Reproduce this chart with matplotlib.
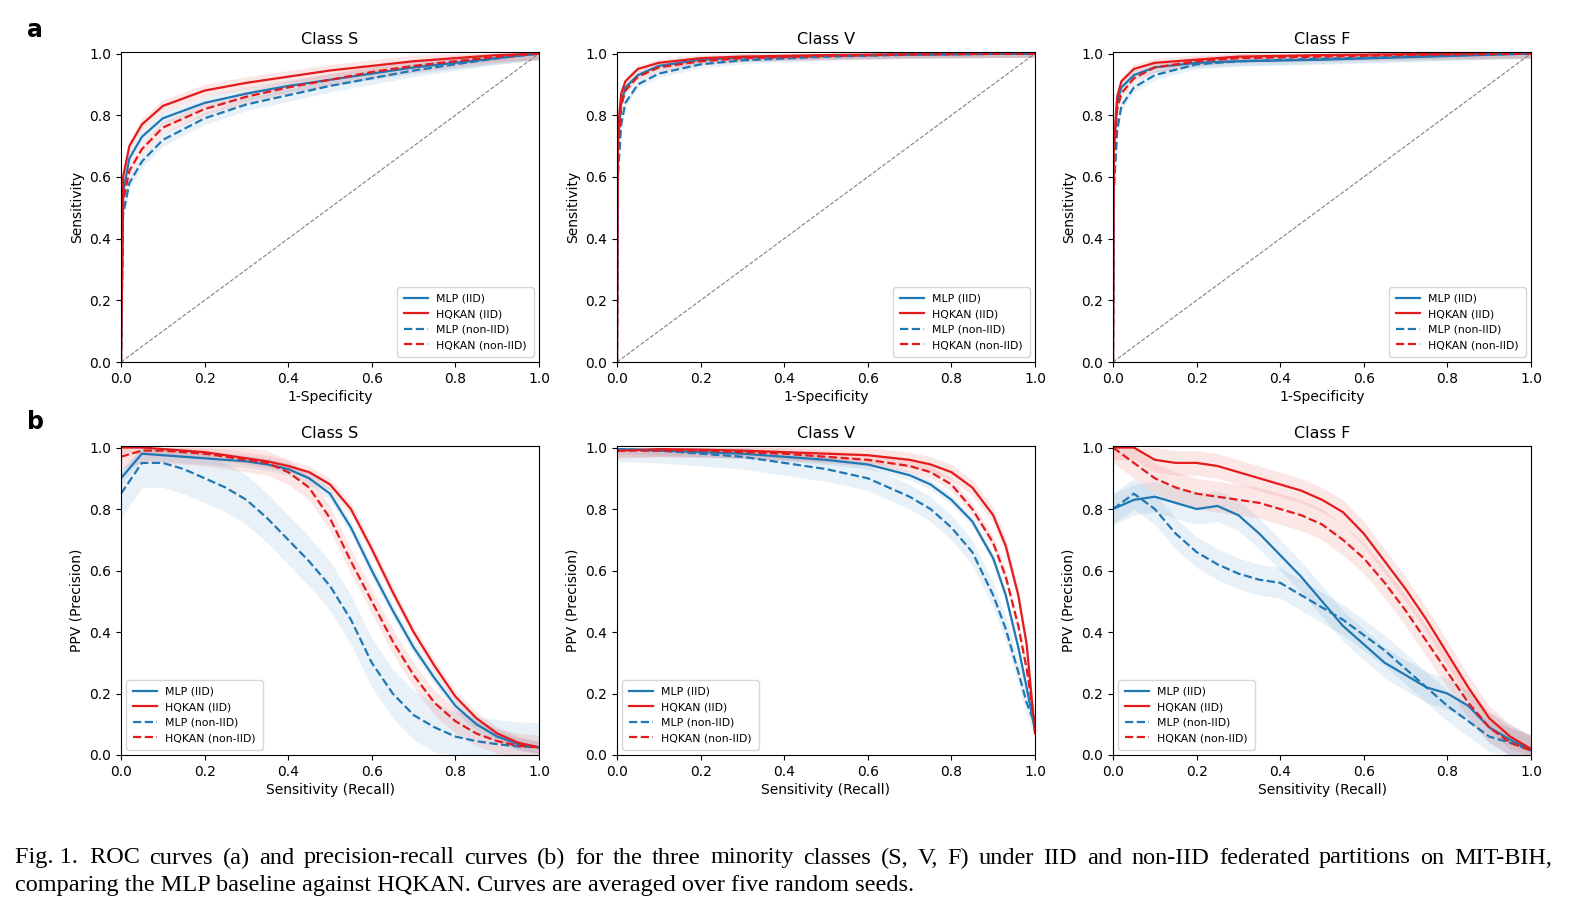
import matplotlib
matplotlib.use("Agg")
import matplotlib.pyplot as plt
import numpy as np

labels = ["MLP (IID)", "HQKAN (IID)", "MLP (non-IID)", "HQKAN (non-IID)"]
blue, red = "#1f77b4", "#e41a1c"

# ROC data
fpr_S = [0, 0.005, 0.02, 0.05, 0.1, 0.2, 0.3, 0.4, 0.5, 0.6, 0.7, 0.8, 0.9, 1]
roc_S = {
    "MLP (IID)":       [0, 0.55, 0.66, 0.73, 0.79, 0.84, 0.87, 0.895, 0.915, 0.935, 0.955, 0.97, 0.985, 1],
    "HQKAN (IID)":     [0, 0.60, 0.70, 0.77, 0.83, 0.88, 0.905, 0.925, 0.945, 0.96, 0.975, 0.985, 0.995, 1],
    "MLP (non-IID)":   [0, 0.48, 0.58, 0.65, 0.72, 0.79, 0.835, 0.865, 0.895, 0.92, 0.945, 0.965, 0.985, 1],
    "HQKAN (non-IID)": [0, 0.52, 0.62, 0.69, 0.76, 0.82, 0.86, 0.89, 0.915, 0.94, 0.96, 0.975, 0.99, 1],
}
fpr_VF = [0, 0.002, 0.01, 0.02, 0.05, 0.1, 0.2, 0.3, 0.5, 0.7, 1]
roc_V = {
    "MLP (IID)":       [0, 0.70, 0.84, 0.89, 0.93, 0.96, 0.98, 0.987, 0.993, 0.997, 1],
    "HQKAN (IID)":     [0, 0.75, 0.87, 0.91, 0.95, 0.97, 0.985, 0.99, 0.995, 0.998, 1],
    "MLP (non-IID)":   [0, 0.60, 0.77, 0.84, 0.90, 0.935, 0.965, 0.978, 0.99, 0.996, 1],
    "HQKAN (non-IID)": [0, 0.68, 0.83, 0.88, 0.925, 0.955, 0.975, 0.985, 0.992, 0.997, 1],
}
roc_F = {
    "MLP (IID)":       [0, 0.68, 0.84, 0.89, 0.93, 0.955, 0.97, 0.975, 0.98, 0.988, 1],
    "HQKAN (IID)":     [0, 0.70, 0.86, 0.91, 0.95, 0.97, 0.98, 0.99, 0.995, 0.998, 1],
    "MLP (non-IID)":   [0, 0.55, 0.75, 0.83, 0.89, 0.93, 0.965, 0.975, 0.983, 0.99, 1],
    "HQKAN (non-IID)": [0, 0.65, 0.82, 0.87, 0.92, 0.955, 0.975, 0.985, 0.99, 0.995, 1],
}
roc_band = {"S": 0.02, "V": 0.012, "F": 0.015}

# PR data
rec_S = [0, .05, .1, .15, .2, .25, .3, .35, .4, .45, .5, .55, .6, .65, .7, .75, .8, .85, .9, .95, 1]
pr_S = {
    "MLP (IID)":       [0.90, 0.98, 0.975, 0.97, 0.965, 0.96, 0.955, 0.945, 0.93, 0.90, 0.85, 0.74, 0.60, 0.47, 0.35, 0.25, 0.16, 0.10, 0.06, 0.035, 0.025],
    "HQKAN (IID)":     [1.0, 1.0, 0.995, 0.99, 0.985, 0.975, 0.965, 0.955, 0.94, 0.92, 0.88, 0.80, 0.67, 0.53, 0.40, 0.29, 0.19, 0.12, 0.07, 0.04, 0.025],
    "MLP (non-IID)":   [0.85, 0.95, 0.95, 0.93, 0.90, 0.87, 0.83, 0.77, 0.70, 0.63, 0.55, 0.44, 0.30, 0.20, 0.13, 0.09, 0.06, 0.045, 0.035, 0.028, 0.025],
    "HQKAN (non-IID)": [0.97, 0.99, 0.99, 0.985, 0.98, 0.97, 0.96, 0.95, 0.92, 0.87, 0.77, 0.63, 0.50, 0.37, 0.26, 0.17, 0.11, 0.07, 0.045, 0.03, 0.025],
}
pr_S_band = {"MLP (IID)": 0.02, "HQKAN (IID)": 0.02, "MLP (non-IID)": 0.08, "HQKAN (non-IID)": 0.04}
rec_V = [0, .1, .2, .3, .4, .5, .6, .7, .75, .8, .85, .9, .93, .96, .98, 1.0]
pr_V = {
    "MLP (IID)":       [0.995, 0.99, 0.985, 0.98, 0.97, 0.96, 0.945, 0.91, 0.88, 0.83, 0.76, 0.64, 0.52, 0.35, 0.22, 0.08],
    "HQKAN (IID)":     [0.99, 0.995, 0.993, 0.99, 0.985, 0.98, 0.975, 0.96, 0.945, 0.92, 0.87, 0.78, 0.68, 0.52, 0.36, 0.07],
    "MLP (non-IID)":   [0.995, 0.99, 0.98, 0.97, 0.95, 0.93, 0.90, 0.84, 0.80, 0.74, 0.66, 0.52, 0.41, 0.27, 0.17, 0.10],
    "HQKAN (non-IID)": [0.99, 0.99, 0.99, 0.985, 0.98, 0.97, 0.96, 0.94, 0.92, 0.88, 0.80, 0.69, 0.58, 0.42, 0.28, 0.10],
}
pr_V_band = {"MLP (IID)": 0.015, "HQKAN (IID)": 0.025, "MLP (non-IID)": 0.04, "HQKAN (non-IID)": 0.02}
rec_F = rec_S
pr_F = {
    "MLP (IID)":       [0.80, 0.83, 0.84, 0.82, 0.80, 0.81, 0.78, 0.72, 0.65, 0.58, 0.50, 0.42, 0.36, 0.30, 0.26, 0.22, 0.20, 0.16, 0.09, 0.05, 0.015],
    "HQKAN (IID)":     [1.0, 1.0, 0.96, 0.95, 0.95, 0.94, 0.92, 0.90, 0.88, 0.86, 0.83, 0.79, 0.72, 0.63, 0.54, 0.44, 0.33, 0.22, 0.12, 0.06, 0.02],
    "MLP (non-IID)":   [0.80, 0.85, 0.80, 0.72, 0.66, 0.62, 0.59, 0.57, 0.56, 0.52, 0.48, 0.44, 0.39, 0.34, 0.28, 0.22, 0.16, 0.11, 0.06, 0.04, 0.015],
    "HQKAN (non-IID)": [1.0, 0.95, 0.90, 0.87, 0.85, 0.84, 0.83, 0.82, 0.80, 0.78, 0.75, 0.70, 0.64, 0.56, 0.47, 0.37, 0.27, 0.17, 0.09, 0.04, 0.015],
}
pr_F_band = {"MLP (IID)": 0.05, "HQKAN (IID)": 0.04, "MLP (non-IID)": 0.05, "HQKAN (non-IID)": 0.05}

caption1_words = ["Fig. 1.\u00a0\u00a0ROC", "curves", "(a)", "and", "precision-recall", "curves", "(b)", "for", "the",
                  "three", "minority", "classes", "(S,", "V,", "F)", "under", "IID", "and", "non-IID",
                  "federated", "partitions", "on", "MIT-BIH,"]
caption2 = "comparing the MLP baseline against HQKAN. Curves are averaged over five random seeds."

styles = {"MLP (IID)": (blue, "-"), "HQKAN (IID)": (red, "-"),
          "MLP (non-IID)": (blue, "--"), "HQKAN (non-IID)": (red, "--")}

fig = plt.figure(figsize=(15.74, 9.19), dpi=100)
lefts = [121, 617, 1113]
W, H = 1574, 919

def mkax(col, top, bottom):
    return fig.add_axes([lefts[col] / W, 1 - bottom / H, 418 / W, (bottom - top) / H])

def style(ax, title, xl, yl):
    ax.set_xlim(0, 1); ax.set_ylim(0, 1.005)
    ax.set_xticks(np.arange(0, 1.01, 0.2)); ax.set_yticks(np.arange(0, 1.01, 0.2))
    ax.tick_params(labelsize=10)
    ax.set_title(title, fontsize=11.5, pad=6)
    ax.set_xlabel(xl, fontsize=10, labelpad=3)
    ax.set_ylabel(yl, fontsize=10)

rocs = [("S", fpr_S, roc_S), ("V", fpr_VF, roc_V), ("F", fpr_VF, roc_F)]
for i, (cls, x, d) in enumerate(rocs):
    ax = mkax(i, 52, 362)
    ax.plot([0, 1], [0, 1], ls="--", color="gray", lw=0.8)
    for lab in labels:
        c, ls = styles[lab]
        y = np.array(d[lab])
        b = roc_band[cls]
        ax.fill_between(x, np.clip(y - b, 0, 1), np.clip(y + b, 0, 1), color=c, alpha=0.1, lw=0)
        ax.plot(x, y, color=c, ls=ls, lw=1.6, label=lab)
    style(ax, f"Class {cls}", "1-Specificity", "Sensitivity")
    ax.legend(loc="lower right", fontsize=7.8, borderpad=0.6, handlelength=2.2)

prs = [("S", rec_S, pr_S, pr_S_band), ("V", rec_V, pr_V, pr_V_band), ("F", rec_F, pr_F, pr_F_band)]
for i, (cls, x, d, bd) in enumerate(prs):
    ax = mkax(i, 446, 755)
    for lab in labels:
        c, ls = styles[lab]
        y = np.array(d[lab])
        b = bd[lab]
        ax.fill_between(x, np.clip(y - b, 0, 1), np.clip(y + b, 0, 1), color=c, alpha=0.1, lw=0)
        ax.plot(x, y, color=c, ls=ls, lw=1.6, label=lab)
    style(ax, f"Class {cls}", "Sensitivity (Recall)", "PPV (Precision)")
    ax.legend(loc="lower left", fontsize=7.8, borderpad=0.6, handlelength=2.2)

fig.text(27 / W, 1 - 30 / H, "a", fontsize=17, fontweight="bold", va="center")
fig.text(27 / W, 1 - 422 / H, "b", fontsize=17, fontweight="bold", va="center")

# justified first caption line
fs = 17.5
renderer = fig.canvas.get_renderer()
x0, x1 = 15, 1552
widths = []
for w in caption1_words:
    t = fig.text(0, 0, w, fontsize=fs, family="Liberation Serif")
    widths.append(t.get_window_extent(renderer).width)
    t.remove()
gap = (x1 - x0 - sum(widths)) / (len(caption1_words) - 1)
xp = x0
for w, wd in zip(caption1_words, widths):
    fig.text(xp / W, 1 - 858 / H, w, fontsize=fs, family="Liberation Serif", va="center")
    xp += wd + gap
fig.text(x0 / W, 1 - 885 / H, caption2, fontsize=fs, family="Liberation Serif", va="center")
fig.savefig("out.png", dpi=100)
